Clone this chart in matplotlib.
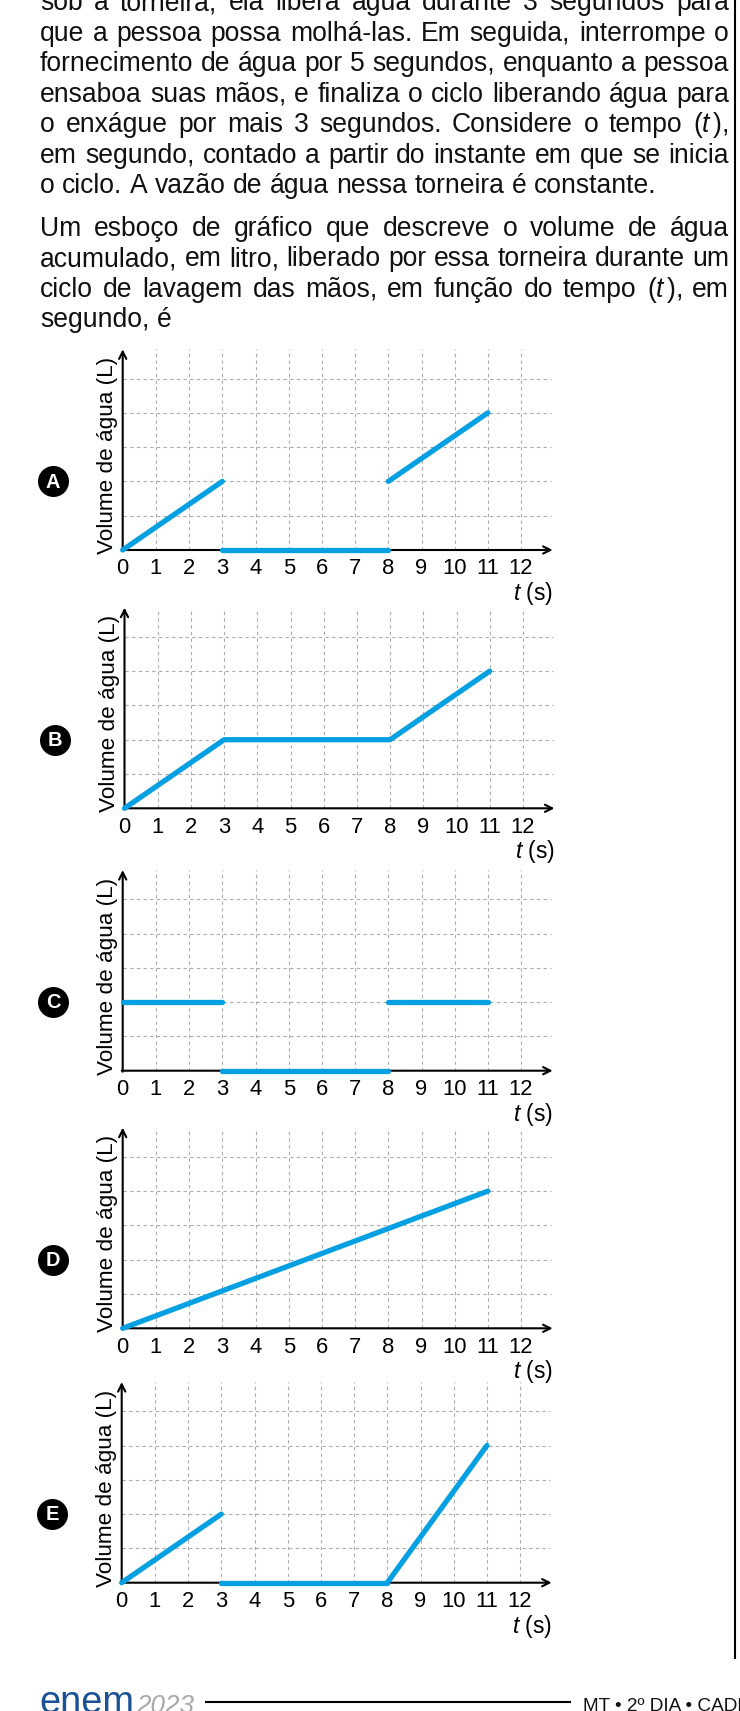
import matplotlib
matplotlib.use("Agg")
import matplotlib.pyplot as plt

W, H = 740, 1711
DPI = 100
PT = 72 / DPI  # px -> pt

plt.rcParams['font.family'] = ['Liberation Sans', 'DejaVu Sans']
plt.rcParams['mathtext.fontset'] = 'custom'
plt.rcParams['mathtext.rm'] = 'Liberation Sans'
plt.rcParams['mathtext.it'] = 'Liberation Sans:italic'

BLUE = '#05A0E2'
GRID = '#ababab'

# texto do enunciado (linhas como no original)
par1 = [
    "sob a torneira, ela libera água durante 3 segundos para",
    "que a pessoa possa molhá-las. Em seguida, interrompe o",
    "fornecimento de água por 5 segundos, enquanto a pessoa",
    "ensaboa suas mãos, e finaliza o ciclo liberando água para",
    "o enxágue por mais 3 segundos. Considere o tempo ($t\\,$),",
    "em segundo, contado a partir do instante em que se inicia",
    "o ciclo. A vazão de água nessa torneira é constante.",
]
par2 = [
    "Um esboço de gráfico que descreve o volume de água",
    "acumulado, em litro, liberado por essa torneira durante um",
    "ciclo de lavagem das mãos, em função do tempo ($t\\,$), em",
    "segundo, é",
]

# dados dos graficos (tempo em s, volume)
ticks_t = list(range(13))
grid_v = [1, 2, 3, 4, 5]

a_t = [[0, 3], [3, 8], [8, 11]]
a_v = [[0, 2], [0, 0], [2, 4]]
b_t = [[0, 3, 8, 11]]
b_v = [[0, 2, 2, 4]]
c_t = [[0, 3], [3, 8], [8, 11]]
c_v = [[2, 2], [0, 0], [2, 2]]
d_t = [[0, 11]]
d_v = [[0, 4]]
e_t = [[0, 3], [3, 8], [8, 11]]
e_v = [[0, 2], [0, 0], [0, 4]]

fig = plt.figure(figsize=(W / DPI, H / DPI), dpi=DPI)
fig.patch.set_facecolor('white')
ov = fig.add_axes([0, 0, 1, 1])
ov.set_xlim(0, W)
ov.set_ylim(H, 0)
ov.axis('off')

renderer = fig.canvas.get_renderer()
BODY = 26.5 * PT
LEFT, RIGHT = 40, 729


def width_px(t):
    return t.get_window_extent(renderer).width


tmp1 = ov.text(0, 500, 'x x', fontsize=BODY)
tmp2 = ov.text(0, 500, 'xx', fontsize=BODY)
SPACE = width_px(tmp1) - width_px(tmp2)
tmp1.remove()
tmp2.remove()


def text_line(line, y, justify):
    words = line.split(' ')
    arts = [ov.text(LEFT, y, w, fontsize=BODY, va='baseline', ha='left', color='#111111') for w in words]
    ws = [width_px(a) for a in arts]
    gap = SPACE
    if justify and len(words) > 1:
        gap = (RIGHT - LEFT - sum(ws)) / (len(words) - 1)
    x = LEFT
    for a, w in zip(arts, ws):
        a.set_x(x)
        x += w + gap


for i, line in enumerate(par1):
    text_line(line, 10 + i * 30.5, i < len(par1) - 1)
for i, line in enumerate(par2):
    text_line(line, 235.5 + i * 30.5, i < len(par2) - 1)

# graficos
UX, UY = 33.2, 34.3
XMIN, XMAX, YMIN, YMAX = -2.6, 13.4, -1.8, 6.1


def chart(letter, ox, oy, seg_t, seg_v):
    left = ox + XMIN * UX
    top = oy - YMAX * UY
    wpx = (XMAX - XMIN) * UX
    hpx = (YMAX - YMIN) * UY
    ax = fig.add_axes([left / W, (H - top - hpx) / H, wpx / W, hpx / H])
    ax.set_xlim(XMIN, XMAX)
    ax.set_ylim(YMIN, YMAX)
    ax.axis('off')
    ax.patch.set_alpha(0)
    for x in ticks_t[1:]:
        ax.plot([x, x], [0, 5.85], color=GRID, lw=0.8, ls=(0, (3, 3)))
    for v in grid_v:
        ax.plot([0, 12.9], [v, v], color=GRID, lw=0.8, ls=(0, (3, 3)))
    arrow = dict(arrowstyle='->', lw=1.5, color='black', mutation_scale=13, shrinkA=0, shrinkB=0)
    ax.annotate('', xy=(12.95, 0), xytext=(-0.03, 0), arrowprops=arrow)
    ax.annotate('', xy=(0, 5.85), xytext=(0, -0.03), arrowprops=arrow)
    for t, v in zip(seg_t, seg_v):
        ax.plot(t, v, color=BLUE, lw=3.8, solid_capstyle='round', zorder=5)
    for i in ticks_t:
        ax.text(i, -0.55, str(i), ha='center', va='center', fontsize=22 * PT)
    ax.text(12.97, -1.27, '$t$ (s)', ha='right', va='center', fontsize=23 * PT)
    ax.text(-0.45, 2.76, 'Volume de água (L)', rotation=90, ha='center', va='center', fontsize=22.5 * PT)
    ax.scatter([-2.1], [2.0], s=(31 * PT) ** 2, color='black', linewidths=0, zorder=6)
    ax.text(-2.1, 1.98, letter, color='white', fontweight='bold', ha='center', va='center',
            fontsize=20 * PT, zorder=7)


chart('A', 122.7, 550, a_t, a_v)
chart('B', 124.5, 808.3, b_t, b_v)
chart('C', 122.7, 1070.7, c_t, c_v)
chart('D', 122.7, 1328.3, d_t, d_v)
chart('E', 121.7, 1582.7, e_t, e_v)

# moldura e rodape
ov.plot([735, 735], [0, 1658], color='black', lw=1.5)
ov.plot([206, 570], [1702, 1702], color='black', lw=1.5)
logo = ov.text(39, 1713, 'enem', fontsize=38 * PT, color='#1B5296', va='baseline', ha='left')
ov.text(39 + width_px(logo) + 2, 1713, '2023', fontsize=26 * PT, color='#a8a8a8',
        fontstyle='italic', va='baseline', ha='left')
ov.text(583, 1711, 'MT • 2º DIA • CADERNO', fontsize=19 * PT, color='#111111', va='baseline', ha='left')

fig.savefig('out.png', dpi=DPI)
